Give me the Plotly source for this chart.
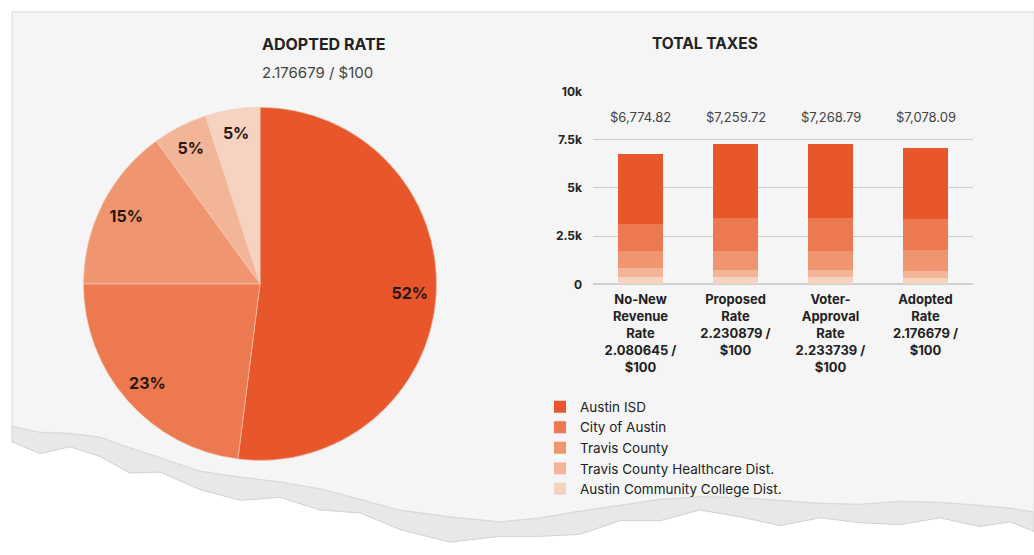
import plotly.graph_objects as go

# ---------------- data ----------------
scenarios = ["No-New<br>Revenue<br>Rate<br>2.080645 /<br>$100",
             "Proposed<br>Rate<br>2.230879 /<br>$100",
             "Voter-<br>Approval<br>Rate<br>2.233739 /<br>$100",
             "Adopted<br>Rate<br>2.176679 /<br>$100"]
entities = ["Austin ISD", "City of Austin", "Travis County",
            "Travis County Healthcare Dist.", "Austin Community College Dist."]
austin_isd = [3650.00, 3810.00, 3819.07, 3700.00]
city_of_austin = [1370.00, 1700.00, 1700.00, 1620.00]
travis_county = [930.00, 1010.00, 1010.00, 1050.00]
healthcare = [455.00, 370.00, 370.00, 354.00]
acc = [369.82, 369.72, 369.72, 354.09]
pie_shares = [52, 23, 15, 5, 5]
y_ticks = [0, 2500, 5000, 7500, 10000]
y_tick_text = ["0", "2.5k", "5k", "7.5k", "10k"]

colors = ["#E8572C", "#EC794F", "#EF9670", "#F3B597", "#F6D3C1"]
FONT = "Inter"
DARK = "#222222"

series = [austin_isd, city_of_austin, travis_county, healthcare, acc]
totals = [sum(v) for v in zip(*series)]

fig = go.Figure()

# paper sheet background with torn bottom edge
edge = [(12, 430), (40, 436), (70, 437), (100, 441), (130, 452), (160, 462),
        (200, 476), (240, 482), (280, 487), (320, 494), (360, 505), (400, 516),
        (450, 523), (500, 528), (540, 524), (580, 517), (620, 511), (660, 505),
        (700, 502), (740, 503), (780, 506), (820, 509), (860, 510), (900, 507),
        (940, 508), (980, 511), (1010, 514), (1034, 518)]
def P(x, y):
    return f"{x / 1034:.4f},{1 - y / 555:.4f}"
path = "M " + P(12, 4) + " L " + P(1034, 4) + " " + " ".join(
    "L " + P(x, y) for x, y in reversed(edge)) + " Z"
jag = [16, 22, 14, 20, 26, 15, 19, 24]
band = "M " + " L ".join(P(x, y) for x, y in edge) + " " + " ".join(
    "L " + P(x, y + jag[i % len(jag)]) for i, (x, y) in reversed(list(enumerate(edge)))) + " Z"
shapes = [
    dict(type="path", xref="paper", yref="paper", path=band,
         fillcolor="#E8E8E8", line=dict(color="#D2D2D2", width=1), layer="below"),
    dict(type="path", xref="paper", yref="paper", path=path,
         fillcolor="#F5F5F5", line=dict(color="#DADADA", width=1), layer="below"),
]

pie_domain = dict(x=[79 / 1034, 441 / 1034], y=[1 - 465 / 555, 1 - 102 / 555])

# pie (fill)
fig.add_trace(go.Pie(
    labels=entities, values=pie_shares, sort=False, direction="clockwise",
    rotation=0, showlegend=False,
    marker=dict(colors=colors, line=dict(color="#F6CDB9", width=0.6)),
    textinfo="none", domain=pie_domain, hoverinfo="label+percent",
))
# pie (labels placed in the outer ring)
fig.add_trace(go.Pie(
    labels=entities, values=pie_shares, sort=False, direction="clockwise",
    rotation=0, showlegend=False, hole=0.7,
    marker=dict(colors=["rgba(0,0,0,0)"] * 5, line=dict(width=0)),
    textinfo="percent", textposition="inside", insidetextorientation="horizontal",
    textfont=dict(family=FONT, size=16, color="#2A160E", weight="bold"),
    domain=pie_domain, hoverinfo="skip",
))

# stacked bars: bottom first
for i in reversed(range(len(entities))):
    fig.add_trace(go.Bar(
        x=scenarios, y=series[i], name=entities[i],
        marker=dict(color=colors[i], line=dict(width=0)),
        xaxis="x", yaxis="y",
    ))

annotations = [
    dict(text="<b>ADOPTED RATE</b>", x=260 / 1034, y=1 - 37 / 555, xref="paper", yref="paper",
         yanchor="middle", showarrow=False, font=dict(family=FONT, size=16, color=DARK)),
    dict(text="2.176679 / $100", x=260 / 1034, y=1 - 66 / 555, xref="paper", yref="paper",
         yanchor="middle", showarrow=False, font=dict(family=FONT, size=15, color="#444444")),
    dict(text="<b>TOTAL TAXES</b>", x=760 / 1034, y=1 - 37 / 555, xref="paper", yref="paper",
         yanchor="middle", showarrow=False, font=dict(family=FONT, size=15.5, color=DARK)),
]
for s, t in zip(scenarios, totals):
    annotations.append(dict(text=f"${t:,.2f}", x=s, y=8700, xref="x", yref="y",
                            showarrow=False, font=dict(family=FONT, size=13, color="#444444")))

fig.update_layout(
    width=1034, height=555,
    margin=dict(l=0, r=0, t=0, b=0),
    paper_bgcolor="white", plot_bgcolor="rgba(0,0,0,0)",
    barmode="stack", bargap=0.52,
    shapes=shapes, annotations=annotations,
    font=dict(family=FONT, color=DARK),
    xaxis=dict(domain=[593 / 1034, 973 / 1034], showgrid=False, showline=False,
               ticks="", ticklabelstandoff=6,
               tickfont=dict(family=FONT, size=13, color=DARK, weight="bold")),
    yaxis=dict(domain=[1 - 284 / 555, 1 - 86 / 555], range=[0, 10000],
               tickvals=y_ticks, ticktext=y_tick_text, ticks="", ticklen=0,
               gridcolor="#CFCFCF", gridwidth=1, zeroline=True, zerolinecolor="#CFCFCF",
               ticklabelstandoff=10,
               tickfont=dict(family=FONT, size=12, color=DARK, weight="bold")),
    legend=dict(x=540 / 1034, y=1 - 394 / 555, xanchor="left", yanchor="top",
                traceorder="reversed", bgcolor="rgba(0,0,0,0)",
                font=dict(family=FONT, size=13.5, color=DARK),
                itemwidth=30, tracegroupgap=0),
)

fig.write_html("out.html")
